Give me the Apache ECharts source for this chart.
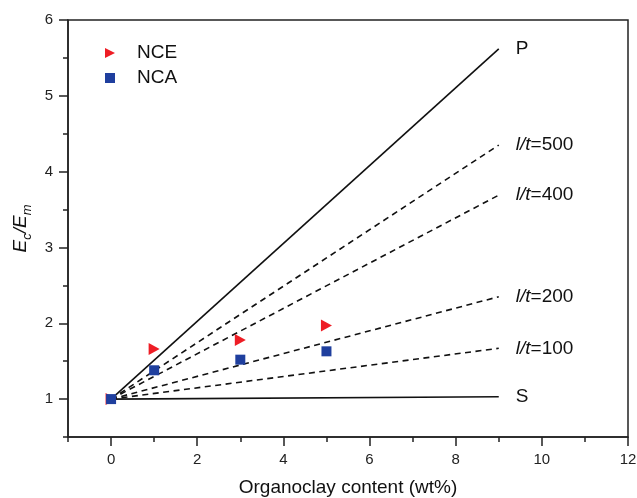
<!DOCTYPE html>
<html>
<head>
<meta charset="utf-8">
<script src="https://cdn.jsdelivr.net/npm/echarts@6/dist/echarts.min.js"></script>
<style>
  html, body { margin: 0; padding: 0; background: #fff; }
  #chart { width: 637px; height: 498px; }
</style>
</head>
<body>
<div id="chart"></div>
<script>
// Measured stiffness ratio E_c/E_m versus organoclay loading
const contentWt = [0, 1, 3, 5];
const nceRatio = [1.0, 1.66, 1.78, 1.97];
const ncaRatio = [1.0, 1.38, 1.52, 1.63];

// Model bounds / Halpin-Tsai curves: value at 0 wt% and at 9 wt%
const modelX = [0, 9];
const modelNames = ['P', 'l/t=500', 'l/t=400', 'l/t=200', 'l/t=100', 'S'];
const modelStart = [1, 1, 1, 1, 1, 1];
const modelEnd = [5.62, 4.35, 3.69, 2.35, 1.67, 1.03];

// Axis ticks
const xMajor = [0, 2, 4, 6, 8, 10, 12];
const xMinor = [-1, 1, 3, 5, 7, 9, 11];
const yMajor = [1, 2, 3, 4, 5, 6];
const yMinor = [0.5, 1.5, 2.5, 3.5, 4.5, 5.5];

const FONT = '"Liberation Sans", Arial, sans-serif';
const triRight = 'path://M0,0 L10,5 L0,10 Z';

function modelLabel(name) {
  if (name.startsWith('l/t')) {
    return '{i|l/t}{n|' + name.slice(3) + '}';
  }
  return '{n|' + name + '}';
}

const modelSeries = modelNames.map((name, k) => {
  const solid = name === 'P' || name === 'S';
  return {
    name: name,
    type: 'line',
    xAxisIndex: 0,
    yAxisIndex: 0,
    symbol: 'none',
    silent: true,
    z: 2,
    lineStyle: { color: '#111', width: 1.6, type: solid ? 'solid' : [6, 4.5] },
    endLabel: {
      show: true,
      distance: 17,
      formatter: () => modelLabel(name),
      rich: {
        n: { fontFamily: FONT, fontSize: 19, color: '#111' },
        i: { fontFamily: FONT, fontSize: 19, color: '#111', fontStyle: 'italic' }
      }
    },
    data: modelX.map((x, j) => [x, j === 0 ? modelStart[k] : modelEnd[k]])
  };
});

const chart = echarts.init(document.getElementById('chart'), null, { renderer: 'canvas' });

chart.setOption({
  animation: false,
  backgroundColor: '#fff',
  grid: {
    left: 68, right: 9, top: 20, bottom: 61,
    outerBoundsMode: 'none',
    containLabel: false,
    show: true, borderColor: '#222', borderWidth: 1.5, backgroundColor: 'transparent'
  },
  legend: {
    left: 100, top: 38,
    orient: 'vertical',
    itemWidth: 10, itemHeight: 10,
    itemGap: 5,
    data: [
      { name: 'NCE', icon: triRight },
      { name: 'NCA', icon: 'rect' }
    ],
    textStyle: { fontFamily: FONT, fontSize: 19, lineHeight: 20, color: '#111', padding: [0, 0, 0, 17] }
  },
  xAxis: [
    {
      type: 'value', min: -1, max: 12,
      name: 'Organoclay content (wt%)',
      nameLocation: 'middle', nameGap: 41,
      nameTextStyle: { fontFamily: FONT, fontSize: 19, color: '#111' },
      axisLine: { show: true, onZero: false, lineStyle: { color: '#222', width: 1.5 } },
      axisTick: { show: true, length: 9, customValues: xMajor, lineStyle: { color: '#222', width: 1.5 } },
      axisLabel: { customValues: xMajor, margin: 15, fontFamily: FONT, fontSize: 15, color: '#222' },
      splitLine: { show: false }
    },
    {
      type: 'value', min: -1, max: 12, position: 'bottom',
      axisLine: { show: false, onZero: false },
      axisTick: { show: true, length: 5, customValues: xMinor, lineStyle: { color: '#222', width: 1.5 } },
      axisLabel: { show: false },
      splitLine: { show: false }
    }
  ],
  yAxis: [
    {
      type: 'value', min: 0.5, max: 6,
      name: '{i|E}{s|c}{i|/E}{s|m}',
      nameLocation: 'middle', nameGap: 34,
      nameTextStyle: {
        rich: {
          i: { fontFamily: FONT, fontSize: 19, fontStyle: 'italic', color: '#111', lineHeight: 26, verticalAlign: 'middle' },
          s: { fontFamily: FONT, fontSize: 13, fontStyle: 'italic', color: '#111', lineHeight: 26, verticalAlign: 'bottom', padding: [11, 0, 0, 0] }
        }
      },
      axisLine: { show: true, onZero: false, lineStyle: { color: '#222', width: 1.5 } },
      axisTick: { show: true, length: 9, customValues: yMajor, lineStyle: { color: '#222', width: 1.5 } },
      axisLabel: { customValues: yMajor, margin: 15, fontFamily: FONT, fontSize: 15, color: '#222' },
      splitLine: { show: false }
    },
    {
      type: 'value', min: 0.5, max: 6, position: 'left',
      axisLine: { show: false, onZero: false },
      axisTick: { show: true, length: 5, customValues: yMinor, lineStyle: { color: '#222', width: 1.5 } },
      axisLabel: { show: false },
      splitLine: { show: false }
    }
  ],
  series: modelSeries.concat([
    {
      name: 'NCE',
      type: 'scatter',
      symbol: triRight,
      symbolSize: [11, 12],
      z: 5,
      itemStyle: { color: '#ee1d25', opacity: 1 },
      data: contentWt.map((x, i) => [x, nceRatio[i]])
    },
    {
      name: 'NCA',
      type: 'scatter',
      symbol: 'rect',
      symbolSize: 10,
      z: 6,
      itemStyle: { color: '#1f3f9e', opacity: 1 },
      data: contentWt.map((x, i) => [x, ncaRatio[i]])
    }
  ])
});
</script>
</body>
</html>
